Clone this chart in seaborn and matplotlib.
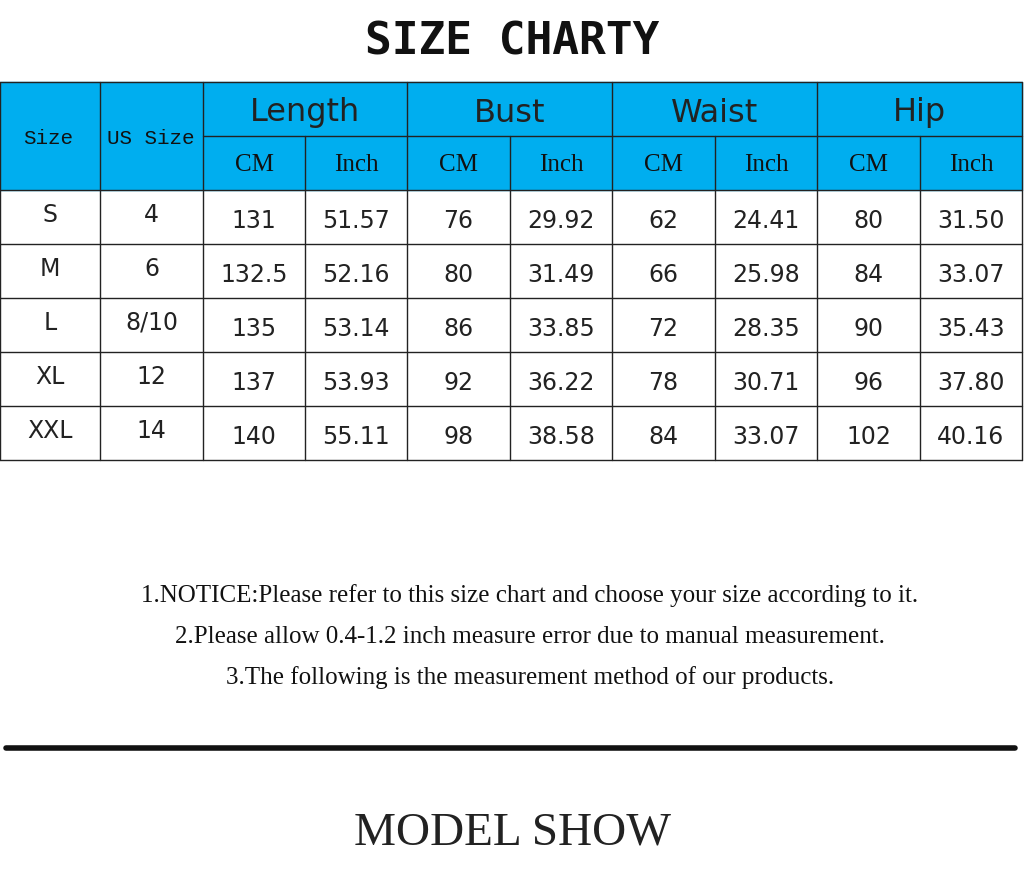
import matplotlib
matplotlib.use("Agg")
import matplotlib.pyplot as plt
import seaborn as sns
from matplotlib.patches import Rectangle

sns.set_theme(style="white")

title = "SIZE CHARTY"
sizes = ["S", "M", "L", "XL", "XXL"]
us_sizes = ["4", "6", "8/10", "12", "14"]
groups = ["Length", "Bust", "Waist", "Hip"]
units = ["CM", "Inch"]
length_cm = ["131", "132.5", "135", "137", "140"]
length_in = ["51.57", "52.16", "53.14", "53.93", "55.11"]
bust_cm = ["76", "80", "86", "92", "98"]
bust_in = ["29.92", "31.49", "33.85", "36.22", "38.58"]
waist_cm = ["62", "66", "72", "78", "84"]
waist_in = ["24.41", "25.98", "28.35", "30.71", "33.07"]
hip_cm = ["80", "84", "90", "96", "102"]
hip_in = ["31.50", "33.07", "35.43", "37.80", "40.16"]
notes = [
    "1.NOTICE:Please refer to this size chart and choose your size according to it.",
    "2.Please allow 0.4-1.2 inch measure error due to manual measurement.",
    "3.The following is the measurement method of our products.",
]
footer = "MODEL SHOW"

fig = plt.figure(figsize=(10.24, 8.96), dpi=100)
ax = fig.add_axes([0, 0, 1, 1])
ax.set_xlim(0, 1024)
ax.set_ylim(896, 0)
ax.axis("off")

xs = [0, 100, 203, 305, 407, 510, 612, 715, 817, 920, 1022]
blue = "#00AEEF"
y0, yh, ysub, row_h = 82, 136, 190, 54

ax.add_patch(Rectangle((0, y0), 1022, ysub - y0, color=blue, zorder=0))
ax.text(512, 42, title, ha="center", va="center", fontsize=32,
        fontweight="bold", family="DejaVu Sans Mono", color="#111")

lc = "#222"
lw = 1.0
ax.plot([0, 1022], [y0, y0], color=lc, lw=lw)
ax.plot([xs[2], 1022], [yh, yh], color=lc, lw=lw)
yb = ysub + 5 * row_h
for i, x in enumerate(xs):
    top = yh if (i >= 3 and i % 2 == 1) else y0
    ax.plot([x, x], [top, yb], color=lc, lw=lw)
for i in range(6):
    y = ysub + i * row_h
    ax.plot([0, 1022], [y, y], color=lc, lw=lw)

ax.text(48, 138, "Size", ha="center", va="center", fontsize=15, family="Liberation Mono", color="#111")
ax.text(151, 138, "US Size", ha="center", va="center", fontsize=15, family="Liberation Mono", color="#111")
for k, g in enumerate(groups):
    xc = (xs[2 + 2 * k] + xs[4 + 2 * k]) / 2
    ax.text(xc, 113, g, ha="center", va="center", fontsize=23, color="#222")
    for j, u in enumerate(units):
        xc2 = (xs[2 + 2 * k + j] + xs[3 + 2 * k + j]) / 2
        ax.text(xc2, 165, u, ha="center", va="center", fontsize=18,
                family="Liberation Serif", color="#111")

cols = [sizes, us_sizes, length_cm, length_in, bust_cm, bust_in,
        waist_cm, waist_in, hip_cm, hip_in]
for c, vals in enumerate(cols):
    xc = (xs[c] + xs[c + 1]) / 2
    for r, v in enumerate(vals):
        yc = ysub + r * row_h + row_h / 2 + (4 if c >= 2 else -2)
        ax.text(xc, yc, v, ha="center", va="center", fontsize=17, color="#222")

for i, n in enumerate(notes):
    ax.text(530, 596 + i * 41, n, ha="center", va="center", fontsize=18,
            family="Liberation Serif", color="#111")

ax.plot([6, 1015], [748, 748], color="#111", lw=4)
ax.text(512, 833, footer, ha="center", va="center", fontsize=34,
        family="Liberation Serif", color="#222")

fig.savefig("out.png", dpi=100)
